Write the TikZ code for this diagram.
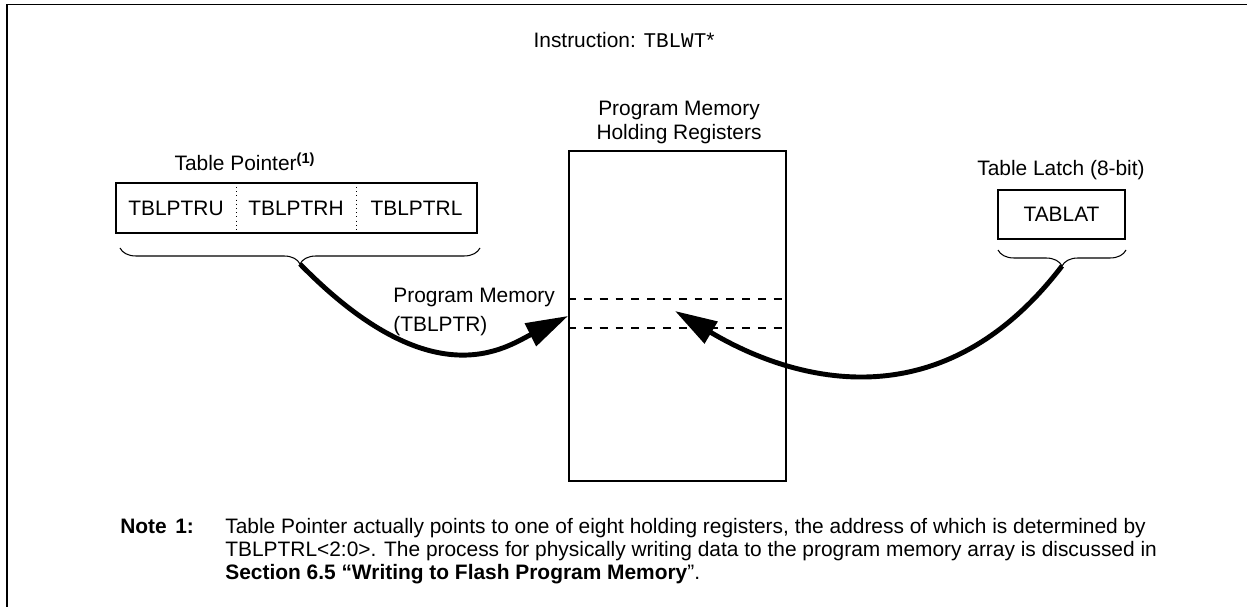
\documentclass[tikz,border=0pt]{standalone}
\usepackage{fontspec}
\setmainfont{Liberation Sans}
\setmonofont{Liberation Mono}
\usetikzlibrary{arrows.meta,decorations.pathreplacing}

\begin{document}
\begin{tikzpicture}[x=0.02cm, y=-0.02cm,
    font=\fontsize{11.9}{13}\selectfont,
    reg/.style={minimum width=2.4cm, minimum height=1cm, inner sep=0pt},
    bigarrow/.style={line width=2.8pt, -{Triangle[length=24pt,width=14pt]}},
    brc/.style={decorate, decoration={brace, mirror, amplitude=0.32cm}, line width=0.6pt},
    lbl/.style={anchor=base, inner sep=0pt}]
    \useasboundingbox (0,0) rectangle (1247,607);
    % frame
    \draw[line width=1.1pt] (7,607) -- (7,4.5) -- (1247,4.5);

    \node[lbl] (instr) at (624,48) {Instruction: \texttt{TBLWT}*};

    % Holding registers
    \node[lbl, align=center, font=\fontsize{11.9}{14}\selectfont] (hold) at (679,140) {Program Memory\\Holding Registers};
    \node[draw, line width=1.1pt, minimum width=4.34cm, minimum height=6.6cm, inner sep=0pt] (mem) at (677.5,316) {};
    \draw[dashed, line width=1pt, dash pattern=on 4.5pt off 4.5pt] (mem.west |- 0,299) -- (mem.east |- 0,299);
    \draw[dashed, line width=1pt, dash pattern=on 4.5pt off 4.5pt] (mem.west |- 0,328) -- (mem.east |- 0,328);
    \coordinate (slot) at (675,311);

    % Table pointer
    \node[lbl] (ptrlbl) at (245,171) {Table Pointer\textsuperscript{\textbf{(1)}}};
    \node[reg] (tblu) at (176,208) {TBLPTRU};
    \node[reg] (tblh) at (296,208) {TBLPTRH};
    \node[reg] (tbll) at (416.5,208) {TBLPTRL};
    \draw[line width=1.1pt] (tblu.north west) rectangle (tbll.south east);
    \draw[dotted] (tblu.north east) -- (tblu.south east);
    \draw[dotted] (tblh.north east) -- (tblh.south east);
    \draw[brc] (120,248) -- (480,248);
    \coordinate (ptrtip) at (300,264);
    \node[lbl, anchor=base west] (pmlbl) at (393,303) {Program Memory};
    \node[lbl, anchor=base west] (pmptr) at (393,332) {(TBLPTR)};

    % Table latch
    \node[lbl] (latlbl) at (1061,176) {Table Latch (8-bit)};
    \node[reg, draw, line width=1.1pt, minimum width=2.54cm, minimum height=0.98cm] (tablat) at (1061.5,214.5) {TABLAT};
    \draw[brc] (998,250) -- (1126,250);
    \coordinate (lattip) at (1062,266);

    % arrows
    \draw[bigarrow] (ptrtip) .. controls (433,400) and (506,347) .. (mem.west);
    \draw[bigarrow] (lattip) .. controls (929,440) and (767,366) .. (slot);

    % note
    \node[lbl, anchor=base west] (notehd) at (120,533) {\textbf{Note}};
    \node[lbl, anchor=base west] (notenum) at (175,533) {\textbf{1:}};
    \node[lbl, anchor=base west, align=left] (notetxt) at (225,579) {Table Pointer actually points to one of eight holding registers, the address of which is determined by\\
        TBLPTRL<2:0>. The process for physically writing data to the program memory array is discussed in\\
        \textbf{Section 6.5 “Writing to Flash Program Memory}”.};
\end{tikzpicture}
\end{document}
